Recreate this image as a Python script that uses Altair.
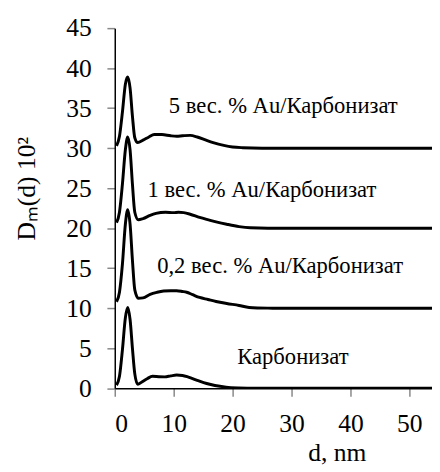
import altair as alt
import pandas as pd

# ---- data ----
series_names = ["Карбонизат", "0,2 вес. % Au/Карбонизат",
                "1 вес. % Au/Карбонизат", "5 вес. % Au/Карбонизат"]

x_carb = [0.3, 0.8, 1.3, 1.8, 2.2, 2.6, 3.0, 3.4, 3.9, 4.6, 5.5, 6.4, 7.5, 8.5,
          9.5, 10.5, 11.5, 12.5, 14.0, 15.6, 17.0, 18.9, 21.0, 24.0, 30.0, 40.0, 54.0]
y_carb = [0.4, 1.5, 4.8, 8.8, 10.1, 8.6, 5.0, 1.8, 0.5, 0.8, 1.2, 1.5, 1.45, 1.43,
          1.55, 1.65, 1.6, 1.4, 1.0, 0.6, 0.35, 0.15, 0.05, 0.0, 0.0, 0.0, 0.0]

x_02 = [0.3, 0.8, 1.3, 1.8, 2.2, 2.6, 3.0, 3.4, 4.0, 4.8, 6.0, 7.2, 8.3, 9.5,
        10.5, 11.5, 12.2, 13.2, 14.4, 15.8, 17.2, 19.0, 21.1, 22.8, 26.0, 30.0, 40.0, 54.0]
y_02 = [10.8, 12.0, 15.5, 20.5, 22.3, 20.5, 16.0, 12.3, 11.25, 11.3, 11.75, 12.0, 12.15, 12.2,
        12.2, 12.1, 12.0, 11.7, 11.35, 11.1, 10.85, 10.6, 10.35, 10.1, 10.02, 10.0, 10.0, 10.0]

x_1 = [0.3, 0.8, 1.3, 1.8, 2.2, 2.6, 3.0, 3.4, 4.0, 4.8, 6.0, 7.0, 8.6, 10.0,
       10.8, 11.7, 12.8, 14.4, 15.6, 17.2, 19.0, 21.1, 23.0, 26.0, 30.0, 40.0, 54.0]
y_1 = [20.7, 22.0, 25.5, 29.8, 31.4, 29.8, 25.5, 22.0, 21.05, 21.2, 21.6, 21.85, 22.0, 21.95,
       22.0, 21.95, 21.75, 21.35, 21.1, 20.8, 20.5, 20.2, 20.05, 20.0, 20.0, 20.0, 20.0]

x_5 = [0.3, 0.8, 1.3, 1.8, 2.2, 2.6, 3.0, 3.4, 3.9, 4.8, 5.8, 6.7, 8.0, 9.5,
       10.5, 11.5, 12.8, 14.0, 15.5, 16.7, 18.5, 20.0, 21.7, 25.0, 30.0, 40.0, 54.0]
y_5 = [30.3, 31.5, 34.5, 38.0, 38.9, 37.5, 34.0, 31.3, 30.7, 31.0, 31.4, 31.7, 31.7, 31.55,
       31.5, 31.55, 31.6, 31.4, 31.0, 30.7, 30.35, 30.15, 30.06, 30.0, 30.0, 30.0, 30.0]

label_x = [20.8, 7.2, 5.55, 9.17]
label_y = [2.98, 14.44, 23.84, 34.36]

x_ticks = [0, 10, 20, 30, 40, 50]
y_ticks = [0, 5, 10, 15, 20, 25, 30, 35, 40, 45]

# ---- build tables ----
rows = []
for name, xs, ys in zip(series_names, [x_carb, x_02, x_1, x_5], [y_carb, y_02, y_1, y_5]):
    for xv, yv in zip(xs, ys):
        rows.append({"series": name, "d": xv, "D": yv})
df = pd.DataFrame(rows)
labels = pd.DataFrame({"label": series_names, "d": label_x, "D": label_y})

FONT = "Liberation Serif"
x_scale = alt.Scale(domain=[0, 53.85], nice=False, zero=False)
y_scale = alt.Scale(domain=[0, 45], nice=False)

x_enc = alt.X("d:Q", scale=x_scale,
              axis=alt.Axis(values=x_ticks, title="d, nm", labelPadding=15,
                            titleX=226, titleY=74, titleAlign="center",
                            titleBaseline="alphabetic",
                            labelFont=FONT, titleFont=FONT))
y_enc = alt.Y("D:Q", scale=y_scale,
              axis=alt.Axis(values=y_ticks, title="Dₘ(d) 10²", labelPadding=16,
                            titleX=-82, titleY=163, titleAlign="center",
                            titleBaseline="alphabetic", titleAngle=-90,
                            labelFont=FONT, titleFont=FONT))

lines = alt.Chart(df).mark_line(color="black", strokeWidth=3,
                                interpolate="monotone", clip=True).encode(
    x=x_enc, y=y_enc, detail="series:N")

texts = alt.Chart(labels).mark_text(align="left", baseline="alphabetic",
                                    fontSize=23, font=FONT, color="black").encode(
    x=alt.X("d:Q", scale=x_scale), y=alt.Y("D:Q", scale=y_scale), text="label:N")

chart = alt.layer(lines, texts).properties(
    width=323, height=366.7,
    autosize=alt.AutoSizeParams(type="none"),
    padding={"left": 108.7, "top": 16.3, "right": 0, "bottom": 80},
).configure(font=FONT).configure_view(strokeWidth=0).configure_axis(
    grid=False, domainColor="black", domainWidth=1.5,
    tickColor="#888888", tickWidth=1.5, tickSize=8,
    labelFont=FONT, labelFontSize=26, labelColor="black",
    titleFont=FONT, titleFontSize=26, titleFontWeight="normal", titleColor="black",
)

chart.save("out.html", embed_options={"renderer": "svg", "actions": False})
